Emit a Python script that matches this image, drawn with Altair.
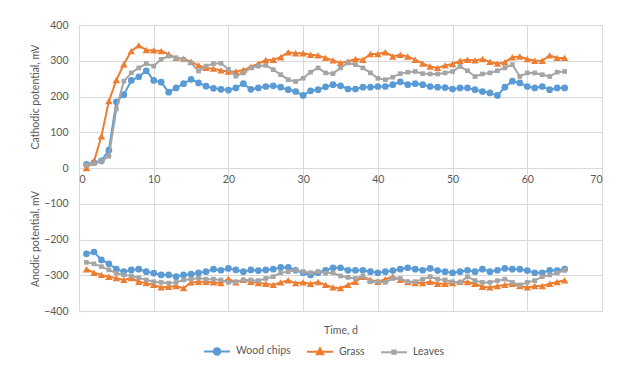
import altair as alt
import pandas as pd

days = list(range(1, 66))
series_names = ["Wood chips", "Grass", "Leaves"]
colors = ["#5B9BD5", "#ED7D31", "#A5A5A5"]
shapes = ["circle", "triangle-up", "square"]
marker_sizes = [45, 55, 22]
# legend symbols: a short line with the marker in its middle
legend_paths = [
    "M-1,0H1M-0.25,0A0.25,0.25 0 1,0 0.25,0A0.25,0.25 0 1,0 -0.25,0Z",
    "M-1,0H1M0,-0.26L0.25,0.2L-0.25,0.2Z",
    "M-1,0H1M-0.13,-0.13H0.13V0.13H-0.13Z",
]
x_ticks = [0, 10, 20, 30, 40, 50, 60, 70]
y_ticks = [-400, -300, -200, -100, 0, 100, 200, 300, 400]

wood_cath = [10, 15, 20, 50, 185, 205, 245, 255, 272, 245,
             240, 212, 224, 236, 248, 238, 229, 223, 220, 218,
             224, 236, 220, 224, 228, 230, 226, 219, 214, 203,
             216, 219, 227, 233, 230, 221, 221, 226, 226, 228,
             228, 233, 241, 233, 236, 233, 228, 226, 225, 221,
             224, 224, 219, 214, 210, 203, 226, 243, 238, 228,
             224, 228, 219, 224, 224]
grass_cath = [0, 18, 89, 187, 246, 290, 327, 343, 330, 329,
              327, 318, 308, 306, 297, 287, 280, 278, 273, 270,
              270, 274, 283, 292, 302, 303, 310, 324, 321, 321,
              317, 315, 308, 301, 294, 298, 305, 303, 319, 319,
              324, 312, 317, 312, 303, 292, 284, 280, 287, 291,
              300, 303, 301, 305, 297, 292, 296, 310, 312, 305,
              300, 300, 315, 308, 308]
leaves_cath = [8, 12, 19, 33, 165, 243, 266, 280, 292, 285,
               304, 313, 308, 304, 294, 271, 285, 292, 293, 276,
               257, 266, 280, 285, 287, 275, 261, 247, 242, 251,
               268, 280, 266, 264, 280, 294, 289, 280, 266, 251,
               247, 254, 264, 268, 270, 264, 263, 263, 266, 270,
               284, 272, 256, 263, 266, 272, 280, 289, 256, 266,
               266, 261, 256, 268, 270]
wood_anod = [-240, -235, -257, -268, -283, -290, -285, -283, -290, -294,
             -299, -299, -304, -299, -297, -293, -290, -283, -286, -281,
             -285, -290, -285, -287, -285, -283, -278, -278, -286, -293,
             -299, -293, -286, -279, -279, -286, -286, -286, -290, -293,
             -290, -287, -283, -279, -283, -286, -281, -287, -290, -293,
             -290, -286, -290, -283, -290, -286, -281, -283, -283, -287,
             -293, -293, -286, -287, -283]
grass_anod = [-283, -293, -299, -304, -308, -313, -308, -318, -322, -327,
              -334, -332, -330, -336, -320, -318, -318, -320, -322, -310,
              -320, -313, -318, -322, -324, -327, -320, -314, -322, -320,
              -324, -319, -327, -334, -336, -327, -318, -304, -313, -318,
              -311, -304, -313, -319, -322, -322, -318, -324, -324, -322,
              -318, -319, -324, -332, -334, -330, -327, -324, -330, -334,
              -330, -330, -324, -319, -314]
leaves_anod = [-264, -268, -276, -285, -294, -299, -302, -307, -313, -318,
               -320, -322, -320, -313, -311, -308, -311, -311, -313, -320,
               -318, -313, -313, -315, -309, -304, -293, -290, -286, -290,
               -293, -290, -294, -293, -302, -306, -309, -302, -318, -318,
               -320, -309, -309, -318, -318, -311, -304, -311, -313, -318,
               -320, -304, -315, -320, -320, -315, -311, -320, -327, -320,
               -315, -304, -299, -294, -286]

cath = [wood_cath, grass_cath, leaves_cath]
anod = [wood_anod, grass_anod, leaves_anod]

rows = []
for name, c_vals, a_vals in zip(series_names, cath, anod):
    for d, c, a in zip(days, c_vals, a_vals):
        rows.append({"day": d, "value": c, "series": name, "part": "cathodic"})
        rows.append({"day": d, "value": a, "series": name, "part": "anodic"})
df = pd.DataFrame(rows)

FONT = "Lato"
TXT = "#595959"
GRID = "#d9d9d9"

x_enc = alt.X("day:Q",
              scale=alt.Scale(domain=[0, 70], nice=False),
              axis=alt.Axis(values=x_ticks, offset=-143, ticks=False,
                            domainColor=GRID, gridColor=GRID, labelPadding=6,
                            labelColor=TXT, labelFontSize=10.5, labelFont=FONT,
                            title="Time, d", titleY=162, titleBaseline="middle",
                            titleColor=TXT, titleFontSize=10.5, titleFont=FONT,
                            titleFontWeight="normal"))
y_enc = alt.Y("value:Q",
              scale=alt.Scale(domain=[-400, 400], nice=False),
              axis=alt.Axis(values=y_ticks, ticks=False, domain=False,
                            gridColor=GRID, labelPadding=11,
                            labelColor=TXT, labelFontSize=10.5, labelFont=FONT,
                            title=None))

layers = []
for name, col, shp, sz in zip(series_names, colors, shapes, marker_sizes):
    sub = alt.Chart(df).transform_filter(alt.datum.series == name)
    layers.append(sub.mark_line(strokeWidth=2, color=col).encode(
        x=x_enc, y=y_enc, detail="part:N"))
    layers.append(sub.mark_point(filled=True, opacity=1, size=sz, shape=shp,
                                 color=col).encode(x=x_enc, y=y_enc))

# legend-only layer (no rows drawn): fill, stroke and shape share one legend
legend = alt.Legend(orient="none", legendX=124, legendY=312, direction="horizontal",
                    title=None, labelColor=TXT, labelFontSize=10.5, labelFont=FONT,
                    symbolSize=676, symbolStrokeWidth=2, labelOffset=5,
                    columnPadding=12)
leg_layer = alt.Chart(df).transform_filter(alt.datum.day < 0).mark_point(
    filled=True, opacity=1, strokeWidth=2).encode(
    x=x_enc, y=y_enc,
    fill=alt.Fill("series:N", scale=alt.Scale(domain=series_names, range=colors), legend=legend),
    stroke=alt.Stroke("series:N", scale=alt.Scale(domain=series_names, range=colors), legend=legend),
    shape=alt.Shape("series:N", scale=alt.Scale(domain=series_names, range=legend_paths), legend=legend),
)

titles_df = pd.DataFrame({"t": ["Cathodic potential, mV", "Anodic potential, mV"],
                          "py": [72, 214]})
ytitles = alt.Chart(titles_df).mark_text(angle=270, font=FONT, fontSize=10.5,
                                         color=TXT, baseline="middle", align="center").encode(
    x=alt.value(-43), y=alt.Y("py:Q", scale=None), text="t:N")

chart = alt.layer(*layers, leg_layer, ytitles).properties(
    width=523, height=286,
    autosize=alt.AutoSizeParams(type="none"),
    padding={"left": 71, "top": 17, "right": 6, "bottom": 50},
).configure_view(stroke=None).configure(background="white")

chart.save("out.html", embed_options={"renderer": "svg", "actions": False})
